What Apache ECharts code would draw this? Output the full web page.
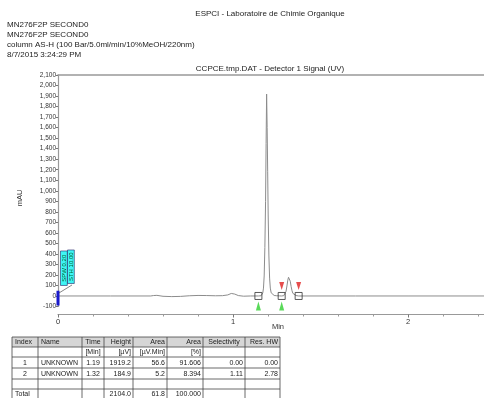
<!DOCTYPE html>
<html><head><meta charset="utf-8">
<script src="https://cdn.jsdelivr.net/npm/echarts/dist/echarts.min.js"></script>
<style>html,body{margin:0;padding:0;background:#fff}#c{width:484px;height:398px}</style>
</head><body><div id="c"></div>
<script>
const headerTitle = 'ESPCI - Laboratoire de Chimie Organique';
const infoLines = ['MN276F2P SECOND0', 'MN276F2P SECOND0', 'column AS-H (100 Bar/5.0ml/min/10%MeOH/220nm)', '8/7/2015 3:24:29 PM'];
const plotTitle = 'CCPCE.tmp.DAT - Detector 1 Signal (UV)';
const yAxisName = 'mAU';
const xAxisName = 'Min';

const times = [0, 0.30, 0.53, 0.545, 0.555, 0.565, 0.575, 0.60, 0.65, 0.70,
  0.75, 0.80, 0.85, 0.90, 0.94, 0.97, 0.99, 1.01, 1.03, 1.06,
  1.10, 1.145, 1.160, 1.166, 1.170, 1.174, 1.178, 1.182, 1.186, 1.189,
  1.192, 1.195, 1.198, 1.201, 1.205, 1.209, 1.213, 1.218, 1.225, 1.235,
  1.250, 1.265, 1.278, 1.290, 1.297, 1.303, 1.308, 1.313, 1.317, 1.320,
  1.323, 1.327, 1.332, 1.337, 1.342, 1.350, 1.360, 1.375, 1.40, 1.70,
  2.00, 2.434];
const signal = [0, 0, 0, 4, 18, 6, -4, -3, -6, -4,
  2, 5, 4, 2, 3, 10, 24, 18, 4, -2,
  0, 0, 2, 10, 28, 75, 190, 460, 900, 1450,
  1919, 1600, 1180, 760, 380, 170, 75, 30, 12, 5,
  2, 1, 0, 3, 15, 45, 95, 150, 178, 185,
  175, 140, 90, 50, 25, 10, 4, 0, 0, 0,
  0, 0];

const peakBoundTimes = [1.145, 1.278, 1.375];
const peakStartTimes = [1.145, 1.278];
const peakEndTimes = [1.278, 1.375];
const eventTimes = [0, 0];
const eventValues = [50, -90];
const annotations = ['SPW 0.20', 'STH 10.00'];

const tableHeader = ['Index', 'Name', 'Time', 'Height', 'Area', 'Area', 'Selectivity', 'Res. HW'];
const tableUnits = ['', '', '[Min]', '[\u00b5V]', '[\u00b5V.Min]', '[%]', '', ''];
const tableRow1 = ['1', 'UNKNOWN', '1.19', '1919.2', '56.6', '91.606', '0.00', '0.00'];
const tableRow2 = ['2', 'UNKNOWN', '1.32', '184.9', '5.2', '8.394', '1.11', '2.78'];
const tableEmpty = ['', '', '', '', '', '', '', ''];
const tableTotal = ['Total', '', '', '2104.0', '61.8', '100.000', '', ''];

const FONT = '"Liberation Sans", Arial, sans-serif';
const chart = echarts.init(document.getElementById('c'), null, {renderer: 'canvas'});

const trace = times.map((t, i) => [t, signal[i]]);

// table graphics
const colEdges = [12, 38, 82, 104, 133, 167, 203, 245, 280];
const rowEdges = [337, 347, 357, 368, 379, 389, 399];
const rows = [tableHeader, tableUnits, tableRow1, tableRow2, tableEmpty, tableTotal];
const headAlign = ['left', 'left', 'center', 'right', 'right', 'right', 'center', 'right'];
const dataAlign = ['center', 'left', 'center', 'right', 'right', 'right', 'right', 'right'];
const tableEls = [];
tableEls.push({type: 'rect', shape: {x: colEdges[0], y: rowEdges[0], width: colEdges[8] - colEdges[0], height: rowEdges[1] - rowEdges[0]}, style: {fill: '#d6d6d6'}, silent: true});
rowEdges.forEach(y => tableEls.push({type: 'line', shape: {x1: colEdges[0], y1: y, x2: colEdges[8], y2: y}, style: {stroke: '#444', lineWidth: 0.8}, silent: true}));
colEdges.forEach(x => tableEls.push({type: 'line', shape: {x1: x, y1: rowEdges[0], x2: x, y2: rowEdges[6]}, style: {stroke: '#444', lineWidth: 0.8}, silent: true}));
rows.forEach((r, ri) => {
  r.forEach((txt, ci) => {
    if (!txt) return;
    let al = ri === 0 ? headAlign[ci] : dataAlign[ci];
    if (ri === 5 && ci === 0) al = 'left';
    let x = al === 'left' ? colEdges[ci] + 3 : al === 'right' ? colEdges[ci + 1] - 2 : (colEdges[ci] + colEdges[ci + 1]) / 2;
    tableEls.push({type: 'text', x: x, y: (rowEdges[ri] + rowEdges[ri + 1]) / 2 + 0.5,
      style: {text: txt, fill: '#222', font: '7px ' + FONT, align: al, verticalAlign: 'middle'}, silent: true});
  });
});

const headerEls = [
  {type: 'text', x: 270, y: 14, style: {text: headerTitle, fill: '#222', font: '8px ' + FONT, align: 'center', verticalAlign: 'middle'}},
  {type: 'text', x: 270, y: 69, style: {text: plotTitle, fill: '#222', font: '8px ' + FONT, align: 'center', verticalAlign: 'middle'}},
  {type: 'text', x: 20, y: 198, rotation: Math.PI / 2, style: {text: yAxisName, fill: '#333', font: '7.5px ' + FONT, align: 'center', verticalAlign: 'middle'}},
  {type: 'text', x: 278, y: 327, style: {text: xAxisName, fill: '#333', font: '7.5px ' + FONT, align: 'center', verticalAlign: 'middle'}}
];
infoLines.forEach((t, i) => headerEls.push({type: 'text', x: 7, y: 25 + i * 10, style: {text: t, fill: '#222', font: '8px ' + FONT, align: 'left', verticalAlign: 'middle'}}));

const option = {
  animation: false,
  backgroundColor: '#fff',
  grid: {left: 58, top: 75, right: 0, height: 231.5, containLabel: false},
  xAxis: [{
    type: 'value', min: 0, max: 2.434, interval: 1, offset: 8,
    axisLine: {show: true, onZero: false, lineStyle: {color: '#999', width: 1.2}},
    axisTick: {show: true, length: 3, lineStyle: {color: '#777'}},
    minorTick: {show: true, splitNumber: 5, length: 2, lineStyle: {color: '#999'}},
    axisLabel: {fontFamily: FONT, fontSize: 7.5, color: '#333', margin: 3, showMaxLabel: false},
    splitLine: {show: false}
  }, {
    type: 'value', min: 0, max: 2.434, position: 'top',
    axisLine: {show: true, onZero: false, lineStyle: {color: '#999', width: 1.5}},
    axisTick: {show: false}, axisLabel: {show: false}, splitLine: {show: false}
  }],
  yAxis: {
    type: 'value', min: -100, max: 2100, interval: 100,
    axisLine: {show: true, onZero: false, lineStyle: {color: '#999', width: 1.2}},
    axisTick: {show: true, length: 2, lineStyle: {color: '#777'}},
    axisLabel: {fontFamily: FONT, fontSize: 6.5, color: '#333', margin: 2,
      formatter: v => v.toLocaleString('en-US')},
    splitLine: {show: false}
  },
  series: [
    {type: 'line', xAxisIndex: 0, data: trace, showSymbol: false, smooth: false,
      lineStyle: {color: '#8c8c8c', width: 1}, z: 2},
    {type: 'line', xAxisIndex: 0, data: eventTimes.map((t, i) => [t, eventValues[i]]), showSymbol: false,
      lineStyle: {color: '#1a1acc', width: 3}, z: 4},
    {type: 'scatter', xAxisIndex: 0, data: peakBoundTimes.map(t => [t, 0]), symbol: 'rect', symbolSize: 7,
      itemStyle: {color: 'rgba(255,255,255,0)', borderColor: '#333', borderWidth: 1}, z: 5},
    {type: 'scatter', xAxisIndex: 0, data: peakStartTimes.map(t => [t, 0]), symbol: 'triangle', symbolSize: [5, 9],
      symbolOffset: [0, 10], itemStyle: {color: '#2fcf2f'}, z: 5},
    {type: 'scatter', xAxisIndex: 0, data: peakEndTimes.map(t => [t, 0]), symbol: 'triangle', symbolRotate: 180, symbolSize: [5, 8],
      symbolOffset: [0, -10], itemStyle: {color: '#e02020'}, z: 5}
  ],
  graphic: headerEls.concat(tableEls)
};
chart.setOption(option);

// annotation boxes anchored to origin of data coordinates
const p0 = chart.convertToPixel({xAxisIndex: 0, yAxisIndex: 0}, [0, 0]);
const annEls = [];
const boxes = [{x: p0[0] + 2.5, y: p0[1] - 45, w: 6.8, h: 34.5}, {x: p0[0] + 9.5, y: p0[1] - 46, w: 6.8, h: 33.5}];
boxes.forEach((b, i) => {
  annEls.push({type: 'rect', shape: {x: b.x, y: b.y, width: b.w, height: b.h}, style: {fill: '#3ff5f5', stroke: '#226', lineWidth: 0.6}, z: 10});
  annEls.push({type: 'text', x: b.x + b.w / 2, y: b.y + b.h / 2, rotation: Math.PI / 2,
    style: {text: annotations[i], fill: '#063', font: '6px ' + FONT, align: 'center', verticalAlign: 'middle'}, z: 11});
});
annEls.push({type: 'line', shape: {x1: p0[0] + 14, y1: p0[1] - 11, x2: p0[0] + 1, y2: p0[1] - 3}, style: {stroke: '#333', lineWidth: 0.6}, z: 10});
chart.setOption({graphic: headerEls.concat(tableEls).concat(annEls)});
</script>
</body></html>
